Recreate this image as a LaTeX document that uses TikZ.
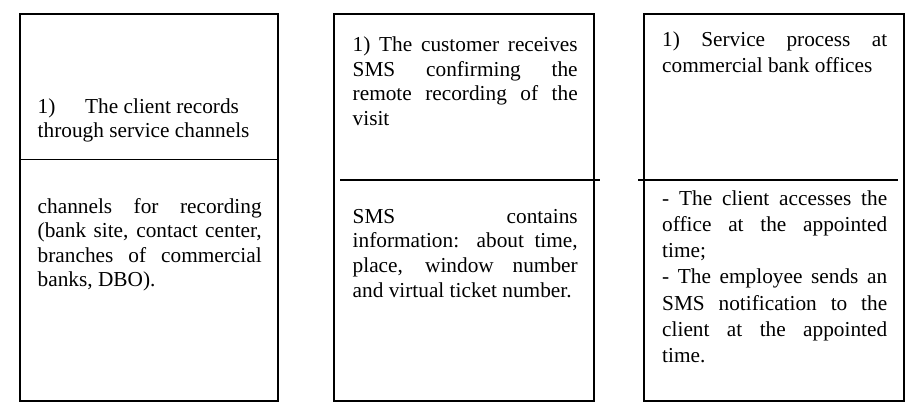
\documentclass[tikz,border=0pt]{standalone}
\usepackage{fontspec}
\setmainfont{Liberation Serif}
\usepackage{tikz}
\usetikzlibrary{positioning}

\begin{document}
\begin{tikzpicture}[
  x=1pt, y=-1pt,
  panel/.style={rectangle, draw=black, line width=2pt, inner sep=0pt,
                outer sep=0pt, anchor=north west},
  divider/.style={draw=black, line width=1.1pt},
  txt/.style={anchor=base west, inner sep=0pt, text width=225pt, align=justify,
              font=\fontsize{21.3}{24.5}\selectfont},
]
\useasboundingbox (0,0) rectangle (915,412);

%% ─ Panels ───────────────────────────────────────────────────────────────────
\node[panel, minimum width=258.5pt, minimum height=386.5pt] (recBox) at (19.5,14.5) {};
\node[panel, minimum width=260pt,   minimum height=386pt]   (smsBox) at (334,14.5)  {};
\node[panel, minimum width=260pt,   minimum height=386.5pt] (srvBox) at (644,14.5)  {};

%% ─ Dividers ─────────────────────────────────────────────────────────────────
\draw[divider] (19.5,159.5) -- (278,159.5);
\draw[divider] (340,180)    -- (600,180);
\draw[divider] (638,180)    -- (898,180);

%% ─ Panel 1: recording ──────────────────────────────────────────────────────
\node[txt, text width=224pt] (recHead) at (37.5,113)
  {\makebox[47.5pt][l]{1)}The client records\\through service channels};
\node[txt, text width=224pt] (recBody) at (37.5,213)
  {channels for recording\linebreak (bank site, contact center,\linebreak
   branches of commercial\linebreak banks, DBO).};

%% ─ Panel 2: SMS confirmation ───────────────────────────────────────────────
\node[txt] (smsHead) at (352.5,52)
  {1) The customer receives\linebreak SMS confirming the\linebreak
   remote recording of the\linebreak visit};
\node[txt, font=\fontsize{21.3}{24.8}\selectfont] (smsBody) at (352.5,223)
  {SMS contains\linebreak information: about time,\linebreak
   place, window number\linebreak and virtual ticket number.};

%% ─ Panel 3: service at the office ──────────────────────────────────────────
\node[txt, font=\fontsize{21.3}{25.5}\selectfont] (srvHead) at (662,47)
  {1) Service process at\linebreak commercial bank offices};
\node[txt, font=\fontsize{21.3}{26.3}\selectfont] (srvBody) at (662,205)
  {- The client accesses the\linebreak office at the appointed\linebreak time;\\
   - The employee sends an\linebreak SMS notification to the\linebreak
   client at the appointed\linebreak time.};

\end{tikzpicture}
\end{document}
